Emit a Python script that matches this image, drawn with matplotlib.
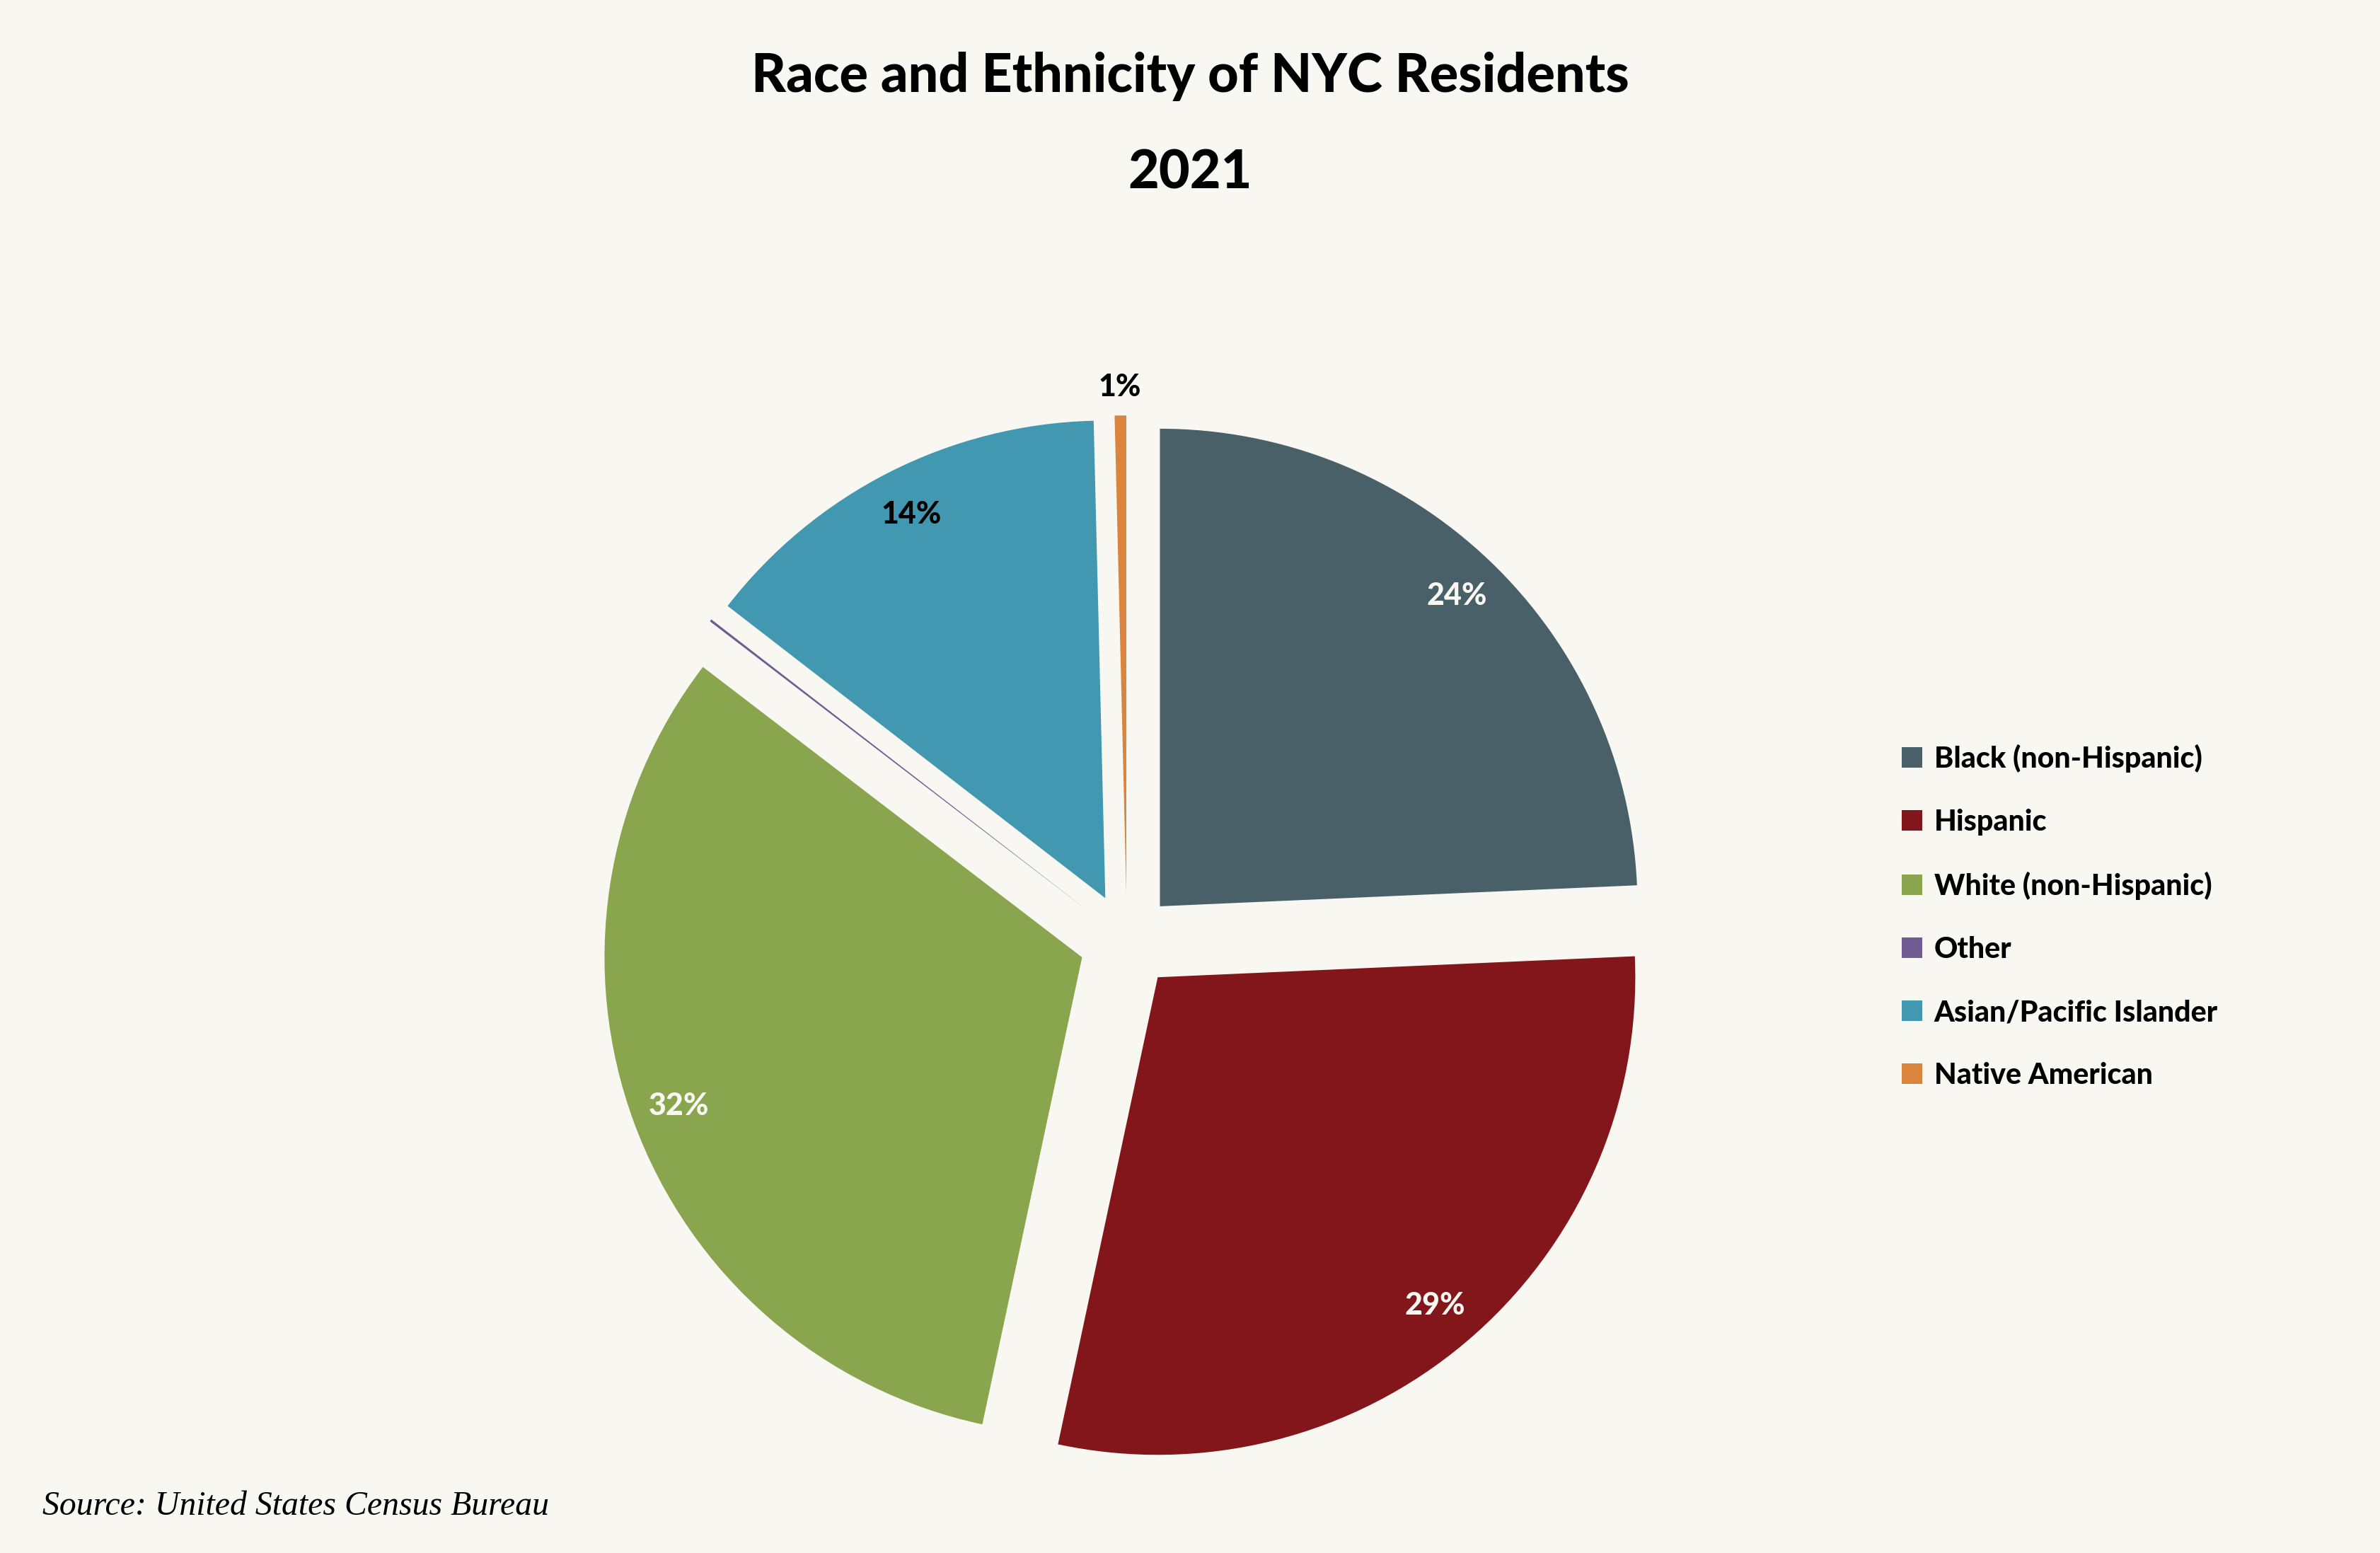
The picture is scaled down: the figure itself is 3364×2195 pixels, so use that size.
import matplotlib
matplotlib.use("Agg")
import matplotlib.pyplot as plt
import numpy as np

categories = ["Black (non-Hispanic)", "Hispanic", "White (non-Hispanic)", "Other",
              "Asian/Pacific Islander", "Native American"]
shares = [24.3, 29.05, 32.05, 0.08, 14.13, 0.39]
pct_labels = ["24%", "29%", "32%", "", "14%", "1%"]
colors = ["#4A6068", "#83161A", "#89A54E", "#725A93", "#4298B0", "#DB843D"]
label_colors = ["#F8F7F1", "#F8F7F1", "#F8F7F1", "black", "black", "black"]

BG = "#F8F7F1"
W, H = 3364, 2195
DPI = 200
fig = plt.figure(figsize=(W / DPI, H / DPI), dpi=DPI, facecolor=BG)

# pie axes: centre (1592.8, 1329.7) px, radius 675 px
cx, cy, r = 1592.8, 1329.7, 675.0
half = 800.0
ax = fig.add_axes([(cx - half) / W, (H - cy - half) / H, 2 * half / W, 2 * half / H])
ax.set_facecolor(BG)

it = iter(pct_labels)
wedges, texts, autotexts = ax.pie(
    shares, colors=colors, startangle=90, counterclock=False,
    explode=[0.1] * len(shares), radius=1.0,
    autopct=lambda p: next(it), pctdistance=0.9,
    wedgeprops=dict(linewidth=0),
    textprops=dict(fontfamily="Lato", fontweight="black", fontsize=15.5),
)
for t, c in zip(autotexts, label_colors):
    t.set_color(c)
# the smallest labelled slice gets its label outside the pie
w = wedges[5]
mid = np.deg2rad((w.theta1 + w.theta2) / 2)
autotexts[5].set_position((w.center[0] + 1.06 * np.cos(mid), w.center[1] + 1.06 * np.sin(mid)))

lim = half / r
ax.set_xlim(-lim, lim)
ax.set_ylim(-lim, lim)
ax.set_aspect("equal")
ax.axis("off")

# title
fig.text(0.5, 1 - 130 / H, "Race and Ethnicity of NYC Residents", ha="center", va="baseline",
         fontfamily="Lato", fontweight="black", fontsize=27.2)
fig.text(0.5, 1 - 266 / H, "2021", ha="center", va="baseline",
         fontfamily="Lato", fontweight="black", fontsize=27.2)

# legend
leg = fig.legend(wedges, categories, loc="upper left",
                 bbox_to_anchor=(2688 / W, 1 - 1052 / H), frameon=False,
                 prop=dict(family="Lato", weight="black", size=14.8),
                 handlelength=0.71, handleheight=0.71, handletextpad=0.4,
                 labelspacing=1.24, borderpad=0, borderaxespad=0)

# source
fig.text(60 / W, 1 - 2141 / H, "Source: United States Census Bureau", ha="left", va="baseline",
         fontfamily="Liberation Serif", fontstyle="italic", fontsize=17.2)

fig.savefig("out.png", dpi=DPI, facecolor=BG)
